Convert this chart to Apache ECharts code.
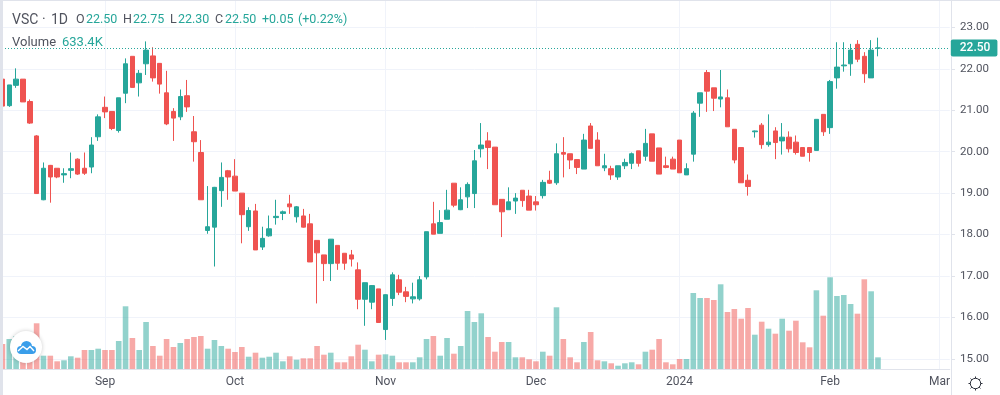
<!DOCTYPE html>
<html lang="en">
<head>
	<meta charset="UTF-8">
	<title>VSC 1D</title>
	<style>
	body, div {
		margin: 0;
		padding: 0;
		background: #fff;
	}
	#chart {
		width: 1000px;
		height: 395px;
	}
	</style>
</head>
<body>
	<div id="chart"></div>
	<script src="https://cdn.jsdelivr.net/npm/echarts@6/dist/echarts.min.js"></script>
	<script>
	// candles, oldest first
	var opens = [
		21.75,21.11,21.60,21.75,21.21,20.38,18.84,19.67,19.60,19.44,
		19.55,19.82,19.60,19.63,20.36,21.07,20.97,20.51,21.41,22.30,
		21.66,22.12,22.31,22.13,21.42,20.97,20.84,21.35,20.48,19.98,
		18.10,18.18,19.06,19.54,19.41,19.00,18.19,18.57,17.70,17.97,
		18.41,18.51,18.74,18.43,18.45,18.26,17.86,17.51,17.30,17.74,
		17.55,17.51,17.15,16.44,16.37,16.69,15.71,16.46,16.91,16.62,
		16.45,16.45,16.98,18.26,18.03,18.37,19.24,18.60,18.91,18.99,
		20.07,20.26,20.11,18.85,18.60,18.81,19.07,18.93,18.79,18.94,
		19.31,19.25,19.98,19.95,19.81,19.58,20.62,20.28,19.61,19.59,
		19.39,19.66,19.72,20.02,19.89,20.43,20.09,19.66,19.82,20.28,
		19.44,19.94,21.17,21.91,21.54,21.27,21.30,20.54,20.10,19.31,
		20.48,20.64,20.17,20.50,20.26,20.35,20.23,20.10,20.10,20.03,
		20.90,20.58,21.78,22.07,22.12,22.59,22.30,21.78,22.50
	];
	var closes = [
		21.10,21.61,21.75,21.20,20.69,18.99,19.60,19.39,19.39,19.47,
		19.59,19.46,19.48,20.16,20.84,20.96,20.56,21.30,22.12,21.55,
		21.89,22.45,21.78,21.63,20.67,20.81,21.33,21.08,20.24,18.84,
		18.19,19.14,19.38,19.39,19.05,18.48,18.58,17.63,17.91,18.14,
		18.44,18.55,18.67,18.67,18.18,17.34,17.56,17.30,17.89,17.31,
		17.31,17.41,16.44,16.84,16.77,15.88,16.55,17.03,16.61,16.51,
		16.50,16.91,18.07,18.01,18.29,18.59,18.71,18.84,19.21,19.78,
		20.16,20.10,18.72,18.55,18.79,18.88,18.82,18.59,18.72,19.26,
		19.24,19.95,19.94,19.80,19.62,20.28,20.08,19.66,19.66,19.44,
		19.66,19.74,19.95,19.72,20.20,19.77,19.46,19.62,19.58,19.49,
		19.59,20.93,21.42,21.46,21.29,21.32,20.60,19.80,19.25,19.16,
		20.50,20.17,20.23,20.22,20.35,20.07,19.98,19.89,19.98,20.78,
		20.48,21.69,22.04,22.09,22.45,22.23,21.88,22.45,22.50
	];
	var lows = [
		21.10,21.08,21.54,21.20,20.67,18.98,18.83,18.77,19.36,19.25,
		19.36,19.44,19.44,19.48,20.26,20.81,20.52,20.46,21.17,21.55,
		21.33,21.85,21.69,21.40,20.64,20.26,20.76,20.96,19.76,18.84,
		18.02,17.23,18.67,18.84,19.05,17.79,18.09,17.63,17.63,17.95,
		18.24,18.35,18.50,18.29,18.17,17.34,16.34,16.88,16.88,17.15,
		17.15,17.23,16.20,15.80,16.20,15.88,15.46,16.28,16.54,16.37,
		16.34,16.41,16.92,18.01,18.03,18.37,18.66,18.59,18.64,18.64,
		19.86,19.58,18.72,17.94,18.60,18.50,18.67,18.59,18.58,18.87,
		19.22,19.20,19.38,19.58,19.46,19.58,20.08,19.66,19.53,19.32,
		19.32,19.58,19.58,19.64,19.78,19.77,19.46,19.60,19.58,19.49,
		19.44,19.76,20.84,20.96,20.98,21.07,20.60,19.72,19.25,18.94,
		20.34,20.07,20.12,19.82,19.93,19.98,19.93,19.89,19.76,20.03,
		20.38,20.43,21.52,21.93,21.83,22.16,21.66,21.78,22.30
	];
	var highs = [
		21.75,21.61,22.01,21.75,21.26,20.40,19.74,19.68,19.60,19.60,
		19.98,19.84,19.98,20.35,20.90,21.33,20.97,21.30,22.25,22.30,
		21.97,22.66,22.52,22.13,21.95,21.05,21.50,21.73,20.86,20.28,
		19.17,19.15,19.74,19.56,19.82,19.00,18.66,18.74,18.19,18.46,
		18.84,18.58,18.96,18.69,18.62,18.50,17.86,17.51,17.89,17.74,
		17.55,17.63,17.33,16.84,16.78,16.69,16.56,17.09,17.03,16.74,
		16.84,17.00,18.07,18.79,18.59,19.08,19.24,19.14,19.26,20.04,
		20.69,20.47,20.11,18.85,19.14,19.00,19.07,19.08,18.93,19.32,
		19.54,20.20,20.35,19.95,19.81,20.43,20.69,20.47,19.95,19.66,
		19.66,19.83,19.98,20.02,20.55,20.43,20.09,19.88,19.88,20.28,
		19.72,20.98,21.42,21.97,21.54,21.97,21.50,20.54,20.10,19.45,
		20.51,20.69,20.90,20.59,20.69,20.49,20.39,20.10,20.10,20.78,
		20.90,21.73,22.64,22.64,22.60,22.69,22.40,22.69,22.75
	];
	// volume in thousands
	var volumes = [
		1359,1630,1794,1087,1359,2484,723,723,418,473,
		690,614,1033,1033,1103,1033,1033,1522,3408,1685,
		1033,2554,1250,723,1630,1196,1413,1630,1739,1794,
		1103,1576,1250,1103,924,1196,668,886,614,668,
		886,418,690,505,582,582,1250,777,886,364,
		364,690,1321,1049,418,777,799,723,364,364,
		364,636,1630,1794,723,1685,832,1250,3152,2554,
		3027,1739,940,1467,1467,636,636,527,418,940,
		723,3353,1630,636,364,1467,2011,473,418,310,
		179,310,364,255,940,1049,1630,364,255,543,
		543,4131,3859,3859,3750,4603,3098,3261,2734,3315,
		1864,2571,2190,1919,2734,2082,2625,1451,1179,4277,
		2897,4984,3968,4022,3533,3006,4875,4223,633.4
	];
	// the axis runs past the last bar, up to Mar
	var monthLabels = ['Aug', 'Sep', 'Oct', 'Nov', 'Dec', '2024', 'Feb', 'Mar'];
	var barsPerMonth = [15, 19, 22, 22, 21, 22, 16, 2];
	var priceTicks = [14, 24];

	var UP = '#26a69a';
	var DOWN = '#ef5350';
	var UP_VOL = 'rgba(38,166,154,0.5)';
	var DOWN_VOL = 'rgba(239,83,80,0.5)';
	var GRID = '#f0f3fa';
	var AXIS = '#e0e3eb';
	var TEXT = '#50535e';
	var FONT = 'Roboto';

	var categories = [];
	monthLabels.forEach(function(m, k) {
		for (var n = 0; n < barsPerMonth[k]; n++) {
			categories.push(m + ' ' + n);
		}
	});
	function isMonthStart(index, value) {
		return / 0$/.test(value) && index > 0;
	}

	var candleData = opens.map(function(o, i) {
		return [o, closes[i], lows[i], highs[i]];
	});
	var volumeData = volumes.map(function(v, i) {
		var up = closes[i] > opens[i] || (closes[i] === opens[i] && i > 0 && closes[i] >= closes[i - 1]);
		return { value: v, itemStyle: { color: up ? UP_VOL : DOWN_VOL } };
	});

	var last = opens.length - 1;
	var change = closes[last] - closes[last - 1];
	function t(x, y, text, color, size) {
		return {
			type: 'text', x: x, y: y, z: 100, silent: true,
			style: { text: text, fill: color, font: (size || 12.5) + 'px ' + FONT, textBaseline: 'middle' }
		};
	}
	var hdr = 13, vol = 36;
	var legend = [
		t(12, hdr, 'VSC', TEXT, 14),
		t(42, hdr, '·', TEXT, 14),
		t(51, hdr, '1D', TEXT, 14),
		t(76, hdr, 'O', TEXT),
		t(86, hdr, opens[last].toFixed(2), UP),
		t(123, hdr, 'H', TEXT),
		t(133, hdr, highs[last].toFixed(2), UP),
		t(170, hdr, 'L', TEXT),
		t(178, hdr, lows[last].toFixed(2), UP),
		t(215, hdr, 'C', TEXT),
		t(225, hdr, closes[last].toFixed(2), UP),
		t(262, hdr, '+' + change.toFixed(2), UP),
		t(298, hdr, '(+0.22%)', UP),
		t(12, vol, 'Volume', TEXT, 13),
		t(62, vol, '633.4K', UP, 13)
	];

	// settings gear: ring plus eight spokes
	var gear = [{
		type: 'circle', z: 95, silent: true, shape: { cx: 975.5, cy: 383.5, r: 5.2 },
		style: { fill: 'none', stroke: '#2a2e39', lineWidth: 1 }
	}];
	for (var a = 0; a < 8; a++) {
		var ang = a * Math.PI / 4;
		gear.push({
			type: 'line', z: 95, silent: true,
			shape: {
				x1: 975.5 + 5.2 * Math.cos(ang), y1: 383.5 + 5.2 * Math.sin(ang),
				x2: 975.5 + 7 * Math.cos(ang), y2: 383.5 + 7 * Math.sin(ang)
			},
			style: { stroke: '#2a2e39', lineWidth: 1 }
		});
	}

	var chart = echarts.init(document.getElementById('chart'), null, { renderer: 'canvas' });
	chart.setOption({
		animation: false,
		backgroundColor: '#fff',
		grid: [
			// price grid overshoots the page so its extent can sit on whole dollars
			{ left: -1, width: 950.8, top: -14.16, height: 414.6, outerBoundsMode: 'none' },
			{ left: -1, width: 950.8, top: 1, height: 368, outerBoundsMode: 'none' }
		],
		xAxis: [
			{ type: 'category', gridIndex: 0, data: categories, show: false },
			{
				type: 'category', gridIndex: 1, data: categories,
				axisLine: { lineStyle: { color: AXIS } },
				axisTick: { alignWithLabel: true, interval: isMonthStart, length: 3, lineStyle: { color: AXIS } },
				splitLine: { show: true, alignWithLabel: true, interval: isMonthStart, lineStyle: { color: GRID } },
				axisLabel: {
					interval: isMonthStart, color: TEXT, fontFamily: FONT, fontSize: 12, margin: 7,
					formatter: function(v) { return v.split(' ')[0]; }
				}
			}
		],
		yAxis: [
			{
				type: 'value', gridIndex: 0, position: 'right', offset: 1.2,
				min: priceTicks[0], max: priceTicks[1], interval: 1,
				axisLine: { show: true, lineStyle: { color: AXIS } },
				axisTick: { show: true, length: 4, lineStyle: { color: AXIS } },
				splitLine: { lineStyle: { color: GRID } },
				axisLabel: {
					color: TEXT, fontFamily: FONT, fontSize: 11.5, margin: 9,
					// the two end ticks fall outside the visible scale
					formatter: function(v) {
						return v === priceTicks[0] || v === priceTicks[1] ? '' : v.toFixed(2);
					}
				}
			},
			{ type: 'value', gridIndex: 1, show: false, min: 0, max: 20000 }
		],
		series: [
			{
				name: 'Volume', type: 'bar', xAxisIndex: 1, yAxisIndex: 1, z: 1,
				barWidth: 5.6, data: volumeData
			},
			{
				name: 'VSC', type: 'candlestick', xAxisIndex: 0, yAxisIndex: 0, z: 2,
				barWidth: 5,
				itemStyle: { color: UP, color0: DOWN, borderColor: UP, borderColor0: DOWN, borderWidth: 1 },
				data: candleData,
				markLine: {
					silent: true, symbol: 'none', animation: false,
					lineStyle: { color: UP, type: [1, 2], width: 1 },
					label: {
						show: true, position: 'end', distance: 1,
						formatter: closes[last].toFixed(2),
						color: '#fff', backgroundColor: UP, borderRadius: 2,
						fontFamily: FONT, fontSize: 12, fontWeight: 500,
						padding: [3, 7, 2, 9]
					},
					data: [{ yAxis: closes[last] }]
				}
			}
		],
		graphic: legend.concat(gear).concat([
			// page frame strip on the left and top
			{ type: 'rect', z: 90, silent: true, shape: { x: 0, y: 0, width: 3, height: 395 }, style: { fill: '#e0e3eb' } },
			{ type: 'rect', z: 90, silent: true, shape: { x: 0, y: 0, width: 1000, height: 1 }, style: { fill: '#e0e3eb' } },
			// logo badge
			{
				type: 'circle', z: 95, silent: true, shape: { cx: 26, cy: 347, r: 16 },
				style: { fill: '#fff', shadowBlur: 4, shadowColor: 'rgba(0,0,0,0.2)' }
			},
			{ type: 'circle', z: 96, silent: true, shape: { cx: 21, cy: 350, r: 4 }, style: { fill: '#3a9eea' } },
			{ type: 'circle', z: 96, silent: true, shape: { cx: 26.5, cy: 346.5, r: 5.5 }, style: { fill: '#3a9eea' } },
			{ type: 'circle', z: 96, silent: true, shape: { cx: 32, cy: 350, r: 4 }, style: { fill: '#3a9eea' } },
			{ type: 'rect', z: 96, silent: true, shape: { x: 21, y: 349, width: 11, height: 5 }, style: { fill: '#3a9eea' } },
			{
				type: 'polyline', z: 97, silent: true,
				shape: { points: [[18, 351], [23, 346.5], [27, 349.5], [30, 346.5], [34, 351]] },
				style: { stroke: '#fff', lineWidth: 1.4, fill: null }
			}
		])
	});
	</script>
</body>
</html>
